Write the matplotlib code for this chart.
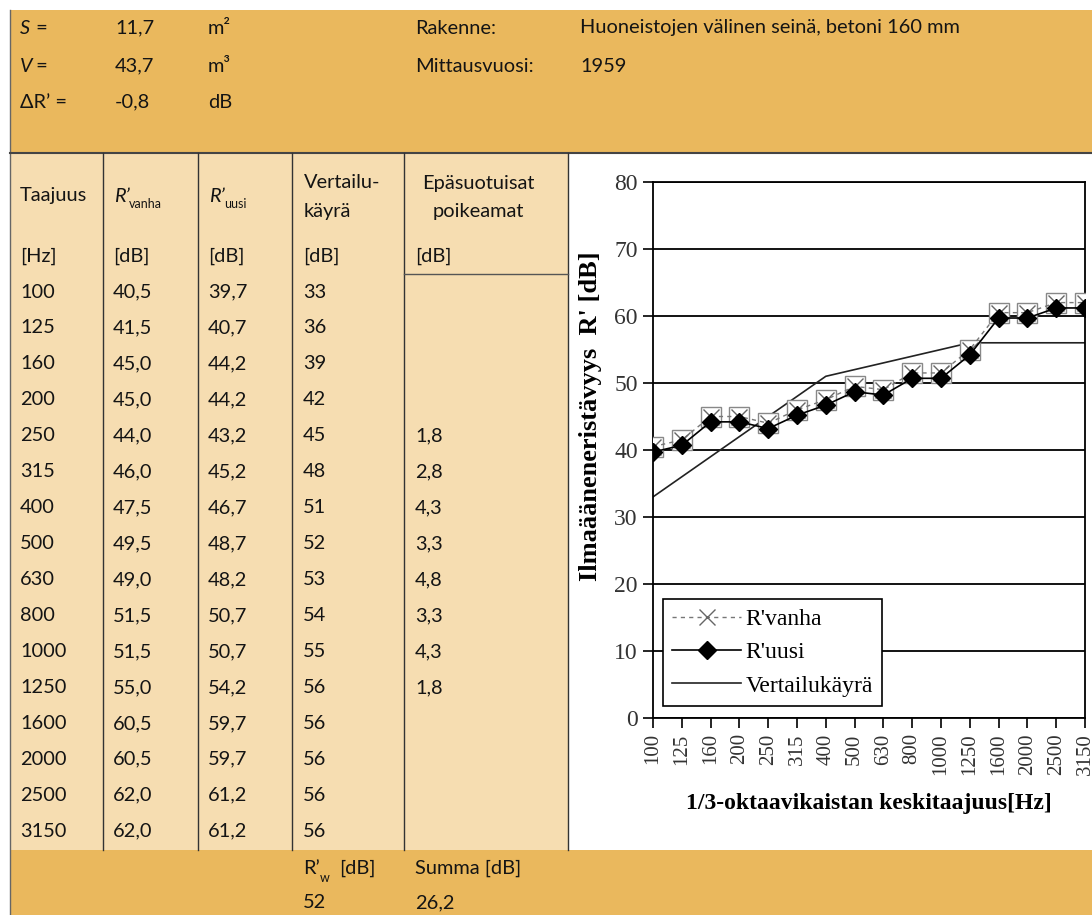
import numpy as np
import matplotlib
matplotlib.use("Agg")
import matplotlib.pyplot as plt
from matplotlib.patches import Rectangle

# data
freqs = ["100", "125", "160", "200", "250", "315", "400", "500", "630", "800",
         "1000", "1250", "1600", "2000", "2500", "3150"]
r_vanha = [40.5, 41.5, 45.0, 45.0, 44.0, 46.0, 47.5, 49.5, 49.0, 51.5,
           51.5, 55.0, 60.5, 60.5, 62.0, 62.0]
r_uusi = [39.7, 40.7, 44.2, 44.2, 43.2, 45.2, 46.7, 48.7, 48.2, 50.7,
          50.7, 54.2, 59.7, 59.7, 61.2, 61.2]
vertailu = [33, 36, 39, 42, 45, 48, 51, 52, 53, 54, 55, 56, 56, 56, 56, 56]
poikeamat = ["", "", "", "", "1,8", "2,8", "4,3", "3,3", "4,8", "3,3",
             "4,3", "1,8", "", "", "", ""]

header_rows = [
    ("S", "11,7", "m²", "Rakenne:", "Huoneistojen välinen seinä, betoni 160 mm"),
    ("V", "43,7", "m³", "Mittausvuosi:", "1959"),
    ("ΔR’ =", "-0,8", "dB", "", ""),
]
rw_value = "52"
summa_value = "26,2"

W, H = 1092, 915
fig = plt.figure(figsize=(W / 100, H / 100), dpi=100)
bg = fig.add_axes([0, 0, 1, 1])
bg.set_xlim(0, W)
bg.set_ylim(H, 0)
bg.axis("off")

orange = "#EAB85D"
wheat = "#F6DDB1"
ink = "#141414"
sans = "Lato"
fs = 14.4
sub = 9

bg.add_patch(Rectangle((10, 10), W - 10, 143, color=orange, lw=0))
bg.add_patch(Rectangle((10, 153), 558, 697, color=wheat, lw=0))
bg.add_patch(Rectangle((568, 153), W - 568, 697, color="white", lw=0))
bg.add_patch(Rectangle((10, 850), W - 10, 65, color=orange, lw=0))

bg.plot([10, 10], [10, 915], color="#666666", lw=1)
bg.plot([10, W], [153, 153], color="#444444", lw=1.5)
for x in [103, 198, 292, 404, 568]:
    bg.plot([x, x], [153, 850], color="#333333", lw=1)
bg.plot([404, 568], [274, 274], color="#555555", lw=1)

def t(x, y, s, **kw):
    opts = dict(fontsize=fs, family=sans, color=ink, va="center")
    opts.update(kw)
    bg.text(x, y, s, **opts)

# header block
hx = [20, 115, 208, 415, 580]
hy = [28, 66, 102]
for row, y in zip(header_rows, hy):
    for j, (txt, x) in enumerate(zip(row, hx)):
        if j == 0 and txt in ("S", "V"):
            t(x, y, txt, style="italic")
            t(x + 11, y, " =")
        else:
            t(x, y, txt)

# table header
t(20, 196, "Taajuus")
t(114, 196, "R’", style="italic")
t(129, 204, "vanha", fontsize=sub)
t(209, 196, "R’", style="italic")
t(224, 204, "uusi", fontsize=sub)
t(304, 182, "Vertailu-")
t(304, 212, "käyrä")
t(478, 184, "Epäsuotuisat", ha="center")
t(478, 212, "poikeamat", ha="center")
for x, s in zip([20, 113, 208, 303, 415], ["[Hz]", "[dB]", "[dB]", "[dB]", "[dB]"]):
    t(x, 256, s)

# table body
for i in range(len(freqs)):
    y = 292 + 35.95 * i
    cells = [freqs[i], f"{r_vanha[i]:.1f}".replace(".", ","),
             f"{r_uusi[i]:.1f}".replace(".", ","), str(vertailu[i]), poikeamat[i]]
    for x, s in zip([20, 113, 208, 303, 415], cells):
        t(x, y, s)

# bottom band
t(303, 868, "R’")
t(320, 878, "w", fontsize=sub)
t(339, 868, "[dB]")
t(415, 868, "Summa [dB]")
t(303, 903, rw_value)
t(415, 903, summa_value)

# chart
x0, x1, y0, y1 = 653, 1085, 182, 718
ax = fig.add_axes([x0 / W, 1 - y1 / H, (x1 - x0) / W, (y1 - y0) / H])
xs = np.arange(len(freqs))
serif = "Liberation Serif"

ax.plot(xs, r_vanha, ls="none", marker="s", ms=14, mfc="white",
        mec="#888888", mew=1, zorder=3)
ax.plot(xs, r_vanha, ls=(0, (3, 3)), color="#777777", lw=1, marker="x",
        ms=12, mec="#666666", mew=1, label="R'vanha", zorder=4)
ax.plot(xs, r_uusi, color="black", lw=1.2, marker="D", ms=9.5,
        mfc="black", mec="black", label="R'uusi", zorder=5)
ax.plot(xs, vertailu, color="#222222", lw=1.2, label="Vertailukäyrä", zorder=2)

ax.set_xlim(0, len(freqs) - 1)
ax.set_ylim(0, 80)
ax.set_yticks(np.arange(0, 81, 10))
ax.set_xticks(xs)
ax.set_xticklabels(freqs, rotation=90, family=serif, fontsize=15, color="#333333")
for lab in ax.get_yticklabels():
    lab.set_family(serif)
    lab.set_fontsize(17)
    lab.set_color("#333333")
ax.tick_params(direction="out", length=7, width=1.2, color="black", pad=4)
ax.yaxis.grid(True, color="black", lw=1.3)
ax.set_axisbelow(True)
for s in ax.spines.values():
    s.set_linewidth(1.3)
    s.set_color("black")

ax.set_xlabel("1/3-oktaavikaistan keskitaajuus[Hz]", family=serif,
              fontweight="bold", fontsize=17)
ax.xaxis.set_label_coords(0.5, -0.14)
ax.set_ylabel("Ilmaääneneristävyys  R' [dB]", family=serif,
              fontweight="bold", fontsize=19)
ax.yaxis.set_label_coords(-0.117, 0.563)

leg = ax.legend(loc="lower left", bbox_to_anchor=(0.023, 0.022),
                borderaxespad=0, fancybox=False, framealpha=1,
                edgecolor="black", prop={"family": serif, "size": 17},
                handlelength=2.9, handletextpad=0.2, borderpad=0.4,
                labelspacing=0.5)
leg.get_frame().set_linewidth(1.2)

fig.savefig("out.png", dpi=100)
